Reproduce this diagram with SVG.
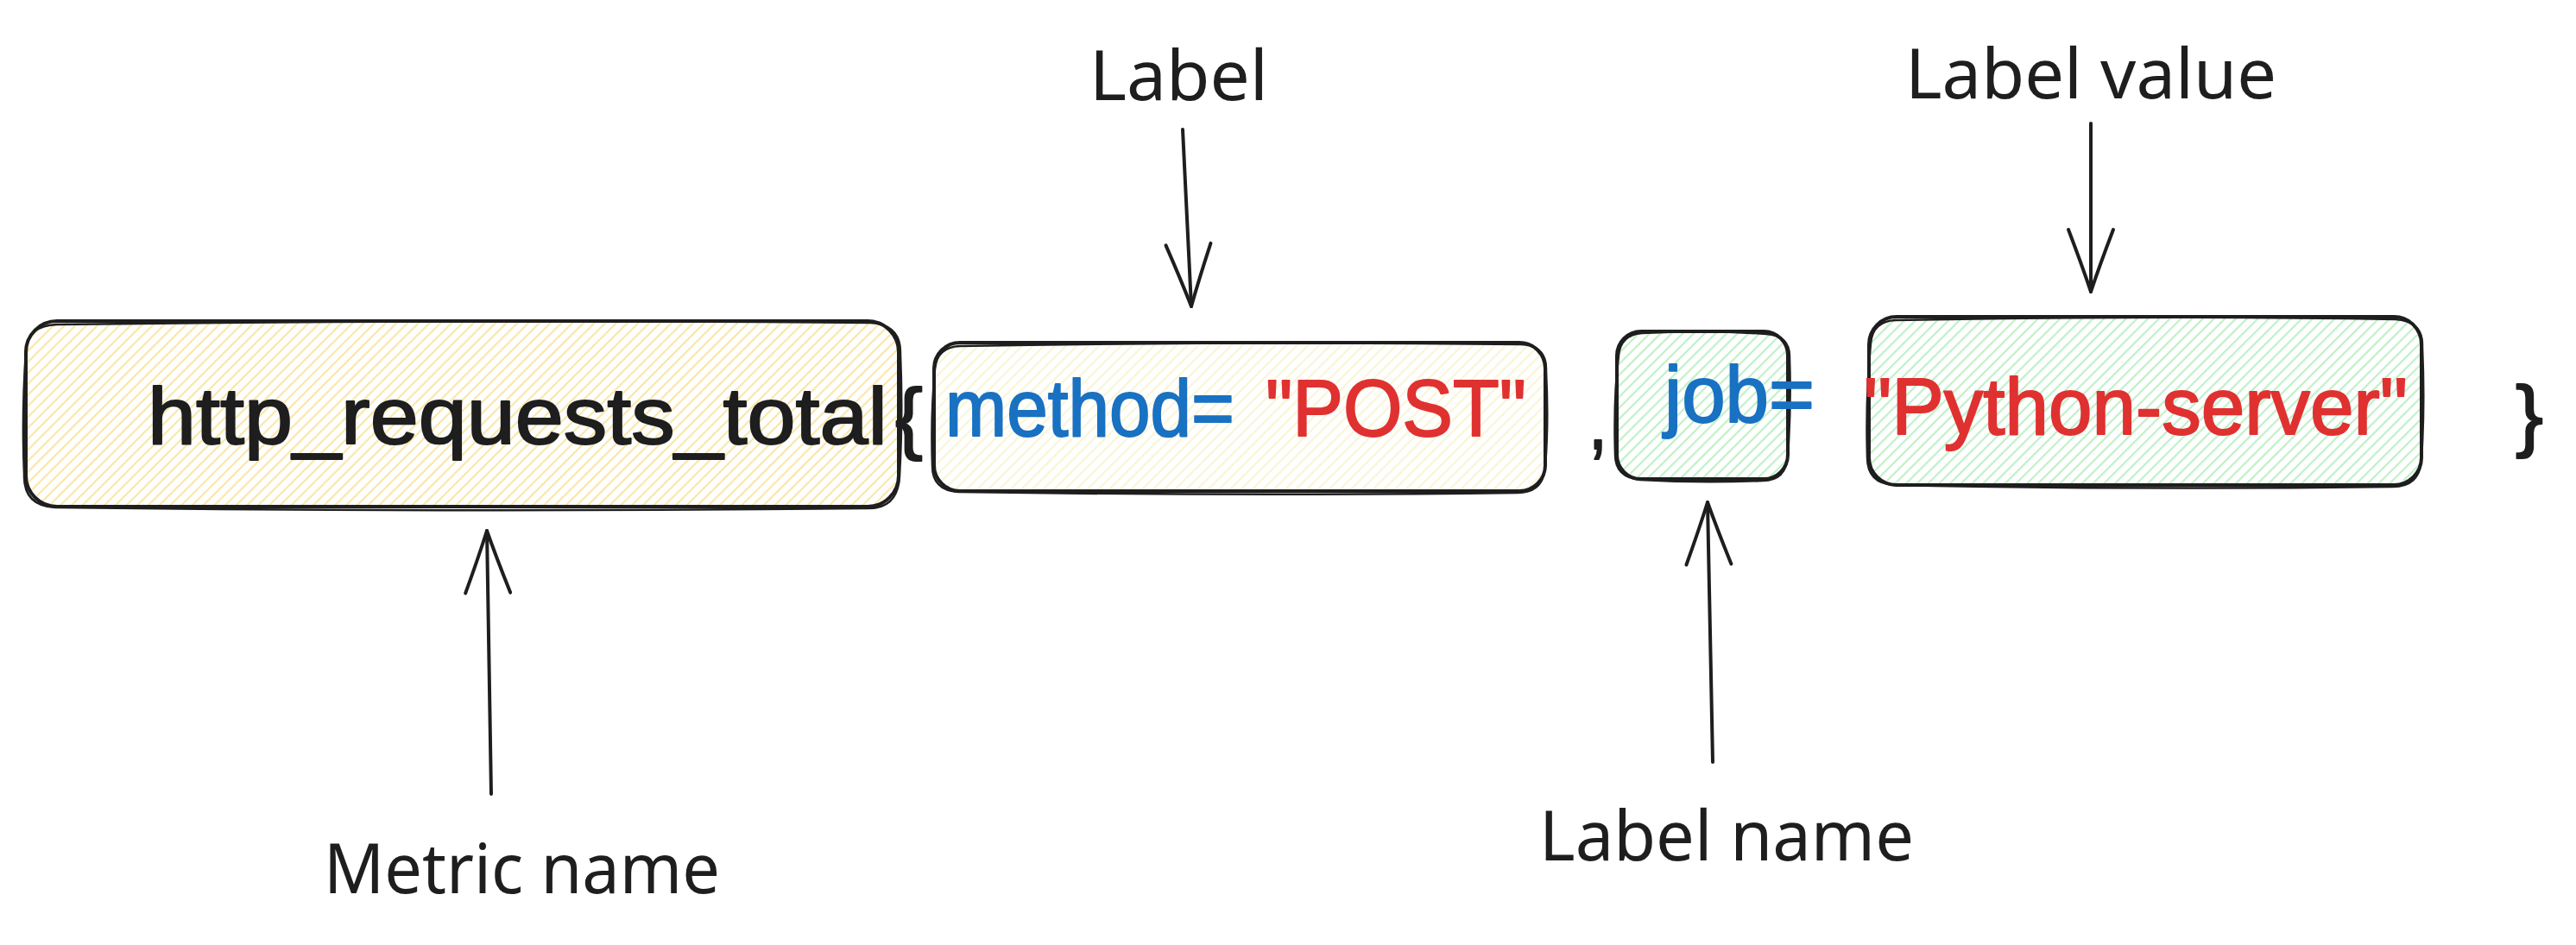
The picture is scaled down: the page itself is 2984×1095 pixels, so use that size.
<svg xmlns="http://www.w3.org/2000/svg" width="2984" height="1095" viewBox="0 0 2984 1095">
<style>
  .box{fill:none;stroke:#1e1e1e;stroke-width:4;stroke-linejoin:round;stroke-linecap:round}
  .box2{fill:none;stroke:#1e1e1e;stroke-width:2.5;stroke-linejoin:round;stroke-linecap:round}
  .code{font-family:"Liberation Sans","DejaVu Sans",sans-serif;font-size:92px;stroke-width:2;stroke-linejoin:round}
  .ink{fill:#1e1e1e;stroke:#1e1e1e}
  .blue{fill:#1971c2;stroke:#1971c2}
  .red{fill:#e03131;stroke:#e03131}
  .note{font-family:"Noto Sans","Lato",sans-serif;font-size:80px;fill:#1e1e1e}
  .arrow{fill:none;stroke:#1e1e1e;stroke-width:4;stroke-linecap:round;marker-end:url(#head)}
</style>
<defs>
  <pattern id="hYellow" width="9" height="9" patternUnits="userSpaceOnUse" patternTransform="rotate(45)">
    <line x1="4.5" y1="0" x2="4.5" y2="9" stroke="#f8e196" stroke-width="1.8"/>
  </pattern>
  <pattern id="hPale" width="9" height="9" patternUnits="userSpaceOnUse" patternTransform="rotate(45)">
    <line x1="4.5" y1="0" x2="4.5" y2="9" stroke="#f7f3cd" stroke-width="1.8"/>
  </pattern>
  <pattern id="hGreen" width="9" height="9" patternUnits="userSpaceOnUse" patternTransform="rotate(45)">
    <line x1="4.5" y1="0" x2="4.5" y2="9" stroke="#b2ecba" stroke-width="1.8"/>
  </pattern>
  <marker id="head" viewBox="-85 -35 95 70" refX="0" refY="0" markerWidth="95" markerHeight="70" markerUnits="userSpaceOnUse" orient="auto" overflow="visible">
    <path d="M -72 -26 Q -30 -10 0 0 Q -30 10 -72 26" fill="none" stroke="#1e1e1e" stroke-width="4" stroke-linecap="round" stroke-linejoin="round"/>
  </marker>
</defs>
<rect width="2984" height="1095" fill="#ffffff"/>

<g id="metric-name-box">
  <rect x="30" y="372" width="1011" height="215" rx="36" fill="url(#hYellow)"/>
  <rect class="box" x="30" y="372" width="1011" height="215" rx="36"/>
  <path class="box2" d="M 66 376 Q 540 370 1008 374 Q 1044 376 1043 410 Q 1046 480 1042 552 Q 1040 590 1004 589 Q 540 594 64 588 Q 27 586 28 550 Q 25 480 30 406 Q 32 377 66 376 Z"/>
  <text class="code ink" x="171" y="514" textLength="857" lengthAdjust="spacingAndGlyphs">http_requests_total</text>
  <text class="code ink" x="1037" y="515" textLength="32" lengthAdjust="spacingAndGlyphs">{</text>
</g>

<g id="label-box">
  <rect x="1082" y="397" width="708" height="172" rx="30" fill="url(#hPale)"/>
  <rect class="box" x="1082" y="397" width="708" height="172" rx="30"/>
  <path class="box2" d="M 1112 401 Q 1450 395 1762 399 Q 1792 400 1791 430 Q 1794 490 1790 540 Q 1788 571 1758 571 Q 1450 575 1110 570 Q 1080 568 1080 540 Q 1078 480 1083 428 Q 1085 402 1112 401 Z"/>
  <text class="code blue" x="1095" y="505" textLength="335" lengthAdjust="spacingAndGlyphs">method=</text>
  <text class="code red" x="1466" y="505" textLength="302" lengthAdjust="spacingAndGlyphs">"POST"</text>
</g>

<text id="comma" class="code ink" x="1840" y="520" font-size="100" textLength="22" lengthAdjust="spacingAndGlyphs">,</text>

<g id="label-name-box">
  <rect x="1873" y="384" width="198" height="171" rx="28" fill="url(#hGreen)"/>
  <rect class="box" x="1873" y="384" width="198" height="171" rx="28"/>
  <path class="box2" d="M 1902 386 Q 1980 382 2046 387 Q 2074 389 2073 415 Q 2075 470 2071 528 Q 2069 557 2042 557 Q 1970 560 1900 556 Q 1871 553 1871 527 Q 1869 460 1875 412 Q 1877 388 1902 386 Z"/>
  <text class="code blue" x="1928" y="489" textLength="174" lengthAdjust="spacingAndGlyphs">job=</text>
</g>

<g id="label-value-box">
  <rect x="2165" y="367" width="640" height="195" rx="32" fill="url(#hGreen)"/>
  <rect class="box" x="2165" y="367" width="640" height="195" rx="32"/>
  <path class="box2" d="M 2196 371 Q 2500 365 2775 370 Q 2807 372 2806 402 Q 2809 470 2805 532 Q 2803 564 2772 564 Q 2480 568 2194 562 Q 2163 560 2163 530 Q 2161 460 2167 398 Q 2169 372 2196 371 Z"/>
  <text class="code red" x="2159" y="503" textLength="630" lengthAdjust="spacingAndGlyphs">"Python-server"</text>
</g>

<text id="close-brace" class="code ink" x="2914" y="512" textLength="32" lengthAdjust="spacingAndGlyphs">}</text>

<g id="note-label">
  <text class="note" x="1262" y="116" textLength="207" lengthAdjust="spacingAndGlyphs">Label</text>
</g>
<g id="note-label-value">
  <text class="note" x="2207" y="114" textLength="430" lengthAdjust="spacingAndGlyphs">Label value</text>
</g>
<g id="note-metric-name">
  <text class="note" x="375" y="1035" textLength="459" lengthAdjust="spacingAndGlyphs">Metric name</text>
</g>
<g id="note-label-name">
  <text class="note" x="1783" y="997" textLength="434" lengthAdjust="spacingAndGlyphs">Label name</text>
</g>

<g id="connectors">
  <path class="arrow" d="M 1370 150 L 1380 355"/>
  <path class="arrow" d="M 2422 143 L 2422 338"/>
  <path class="arrow" d="M 569 920 L 564 615"/>
  <path class="arrow" d="M 1984 883 L 1978 582"/>
</g>
</svg>
